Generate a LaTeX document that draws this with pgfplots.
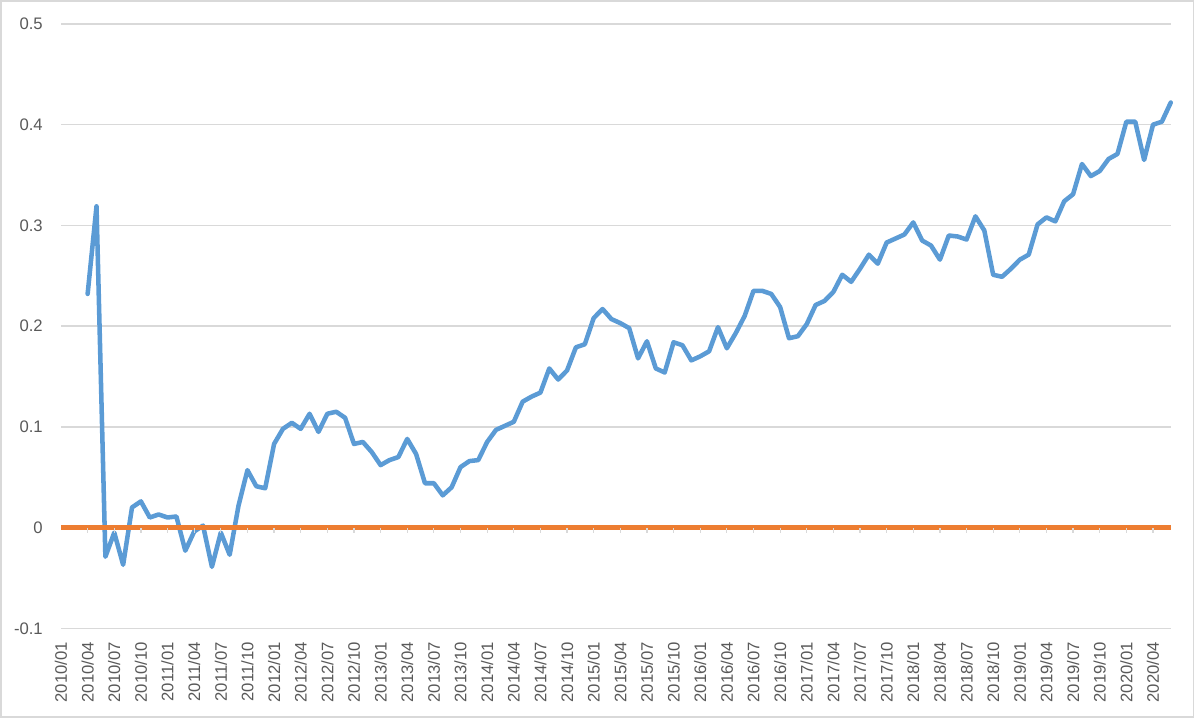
\documentclass[border=0pt]{standalone}
\usepackage{pgfplots}
\pgfplotsset{compat=1.18}
\usepackage{fontspec}
\setmainfont{Liberation Sans}
\definecolor{xlblue}{HTML}{5B9BD5}
\definecolor{xlorange}{HTML}{ED7D31}
\definecolor{xlgrid}{HTML}{D9D9D9}
\definecolor{xltext}{HTML}{595959}
\begin{document}
\begin{tikzpicture}
\path (-45.75pt,-68.0pt) rectangle (850.5pt,471.2pt);
\draw[xlgrid, line width=1.1pt] (-45.0pt,-66.4pt) rectangle (849.2pt,470.5pt);
\pgfplotsset{commonax/.style={
  scale only axis, width=832.3pt, height=453.2pt,
  xmin=0, xmax=125, ymin=-0.1, ymax=0.5,
  clip=false,
}}
\begin{axis}[commonax,
  axis line style={draw=none},
  ytick={-0.1,0,0.1,0.2,0.3,0.4,0.5},
  yticklabels={-0.1,0,0.1,0.2,0.3,0.4,0.5},
  ymajorgrids, grid style={xlgrid, line width=1pt},
  major tick length=0pt,
  xtick={0,3,...,123},
  xticklabels={2010/01,2010/04,2010/07,2010/10,2011/01,2011/04,2011/07,2011/10,2012/01,2012/04,2012/07,2012/10,2013/01,2013/04,2013/07,2013/10,2014/01,2014/04,2014/07,2014/10,2015/01,2015/04,2015/07,2015/10,2016/01,2016/04,2016/07,2016/10,2017/01,2017/04,2017/07,2017/10,2018/01,2018/04,2018/07,2018/10,2019/01,2019/04,2019/07,2019/10,2020/01,2020/04},
  ticklabel style={font=\fontsize{12.5}{14}\selectfont, text=xltext, inner sep=0pt},
  yticklabel style={anchor=east, xshift=-13.5pt},
  xticklabel style={rotate=90, anchor=east, xshift=-10.3pt},
]
\addplot[xlblue, line width=3.4pt, line cap=round, line join=round] coordinates {
(3,0.232)(4,0.319)(5,-0.029)(6,-0.005)(7,-0.037)(8,0.020)(9,0.026)(10,0.010)
(11,0.013)(12,0.010)(13,0.011)(14,-0.023)(15,-0.004)(16,0.002)(17,-0.039)(18,-0.005)
(19,-0.027)(20,0.022)(21,0.057)(22,0.041)(23,0.039)(24,0.083)(25,0.098)(26,0.104)
(27,0.098)(28,0.113)(29,0.095)(30,0.113)(31,0.115)(32,0.109)(33,0.083)(34,0.085)
(35,0.075)(36,0.062)(37,0.067)(38,0.070)(39,0.088)(40,0.073)(41,0.044)(42,0.044)
(43,0.032)(44,0.040)(45,0.060)(46,0.066)(47,0.067)(48,0.085)(49,0.097)(50,0.101)
(51,0.105)(52,0.125)(53,0.130)(54,0.134)(55,0.158)(56,0.147)(57,0.156)(58,0.179)
(59,0.182)(60,0.208)(61,0.217)(62,0.207)(63,0.203)(64,0.198)(65,0.168)(66,0.185)
(67,0.158)(68,0.154)(69,0.184)(70,0.181)(71,0.166)(72,0.170)(73,0.175)(74,0.199)
(75,0.178)(76,0.193)(77,0.210)(78,0.235)(79,0.235)(80,0.232)(81,0.219)(82,0.188)
(83,0.190)(84,0.202)(85,0.221)(86,0.225)(87,0.234)(88,0.251)(89,0.244)(90,0.257)
(91,0.271)(92,0.262)(93,0.283)(94,0.287)(95,0.291)(96,0.303)(97,0.285)(98,0.280)
(99,0.266)(100,0.290)(101,0.289)(102,0.286)(103,0.309)(104,0.295)(105,0.251)(106,0.249)
(107,0.257)(108,0.266)(109,0.271)(110,0.301)(111,0.308)(112,0.304)(113,0.324)(114,0.331)
(115,0.361)(116,0.349)(117,0.354)(118,0.366)(119,0.371)(120,0.403)(121,0.403)(122,0.365)
(123,0.400)(124,0.403)(125,0.422)
};
\addplot[xlorange, line width=3.6pt] coordinates {(0,0)(125,0)};
\end{axis}
\begin{axis}[commonax,
  hide y axis,
  axis x line*=middle,
  x axis line style={draw=none},
  xtick={0,3,...,123}, xticklabels={},
  tick align=outside, major tick length=4pt,
  xtick style={xlgrid, line width=0.9pt},
]
\end{axis}
\end{tikzpicture}
\end{document}
